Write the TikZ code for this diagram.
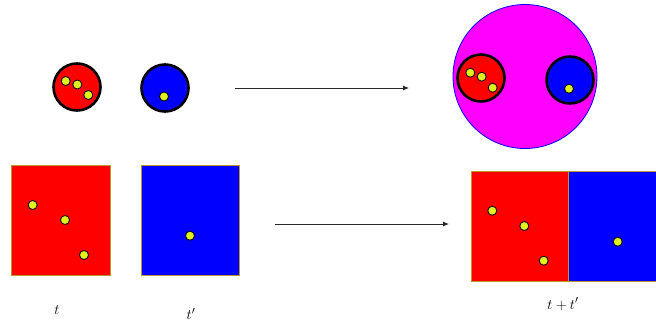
\documentclass[tikz,border=0pt]{standalone}
\usetikzlibrary{arrows.meta}
\definecolor{dotyel}{RGB}{222,240,30}
\definecolor{rimgold}{RGB}{190,150,40}
\definecolor{puremag}{RGB}{255,0,255}
\definecolor{purered}{RGB}{255,0,0}
\definecolor{pureblue}{RGB}{0,0,255}
\tikzset{
  ball/.style={circle, draw=black, line width=2.6pt, minimum size=47pt, inner sep=0pt},
  seed/.style={circle, draw=black, line width=0.8pt, fill=dotyel, minimum size=9pt, inner sep=0pt},
  tile/.style={draw=rimgold, line width=0.8pt},
  maparrow/.style={line width=0.9pt, draw=black!85, -{Latex[length=6pt,width=5pt]}},
  lbl/.style={inner sep=0pt, font=\fontsize{15}{17}\selectfont}
}
\begin{document}
\begin{tikzpicture}[x=1pt,y=-1pt]
\useasboundingbox (0,0) rectangle (656,322);
% top row, left
\node[ball, fill=purered] (rc) at (77,87) {};
\node[seed] (r1) at (65.7,81) {};
\node[seed] (r2) at (77.3,84.5) {};
\node[seed] (r3) at (88.3,95) {};
\node[ball, fill=pureblue] (bc) at (165,88) {};
\node[seed] (b1) at (164,96.5) {};
% top arrow
\coordinate (ta1) at (235,88);
\coordinate (ta2) at (409,88);
\draw[maparrow] (ta1) -- (ta2);
% top row, right
\node[circle, draw=pureblue, line width=0.8pt, fill=puremag, minimum size=144pt, inner sep=0pt] (mc) at (525,76.5) {};
\node[ball, fill=purered] (rc2) at (481,78) {};
\node[seed] (r21) at (470.3,72.7) {};
\node[seed] (r22) at (481.7,76.7) {};
\node[seed] (r23) at (492.7,87.7) {};
\node[ball, fill=pureblue] (bc2) at (570,80) {};
\node[seed] (b21) at (569,88.7) {};
% bottom row, left
\fill[purered] (11.7,165.7) rectangle (110,275.7);
\draw[tile] (11.7,165.7) rectangle (110,275.7);
\node[seed] (s1) at (32.7,205) {};
\node[seed] (s2) at (65,220) {};
\node[seed] (s3) at (84,255) {};
\fill[pureblue] (141,165.7) rectangle (239,275.7);
\draw[tile] (141,165.7) rectangle (239,275.7);
\node[seed] (s4) at (190,235.7) {};
% bottom arrow
\coordinate (ba1) at (275,224);
\coordinate (ba2) at (449,224);
\draw[maparrow] (ba1) -- (ba2);
% bottom row, right
\fill[purered] (471.7,171.7) rectangle (568.3,281.7);
\fill[pureblue] (568.3,171.7) rectangle (670,281.7);
\draw[tile] (471.7,171.7) rectangle (568.3,281.7);
\draw[tile] (568.3,171.7) -- (670,171.7);
\draw[tile] (568.3,281.7) -- (670,281.7);
\node[seed] (s5) at (492.3,210.7) {};
\node[seed] (s6) at (524.3,226) {};
\node[seed] (s7) at (543.7,260.7) {};
\node[seed] (s8) at (617.7,241.7) {};
% labels
\node[lbl] (lt) at (57,310) {$t$};
\node[lbl] (ltp) at (191,314) {$t'$};
\node[lbl] (ltt) at (563,304) {$t+t'$};
\end{tikzpicture}
\end{document}
